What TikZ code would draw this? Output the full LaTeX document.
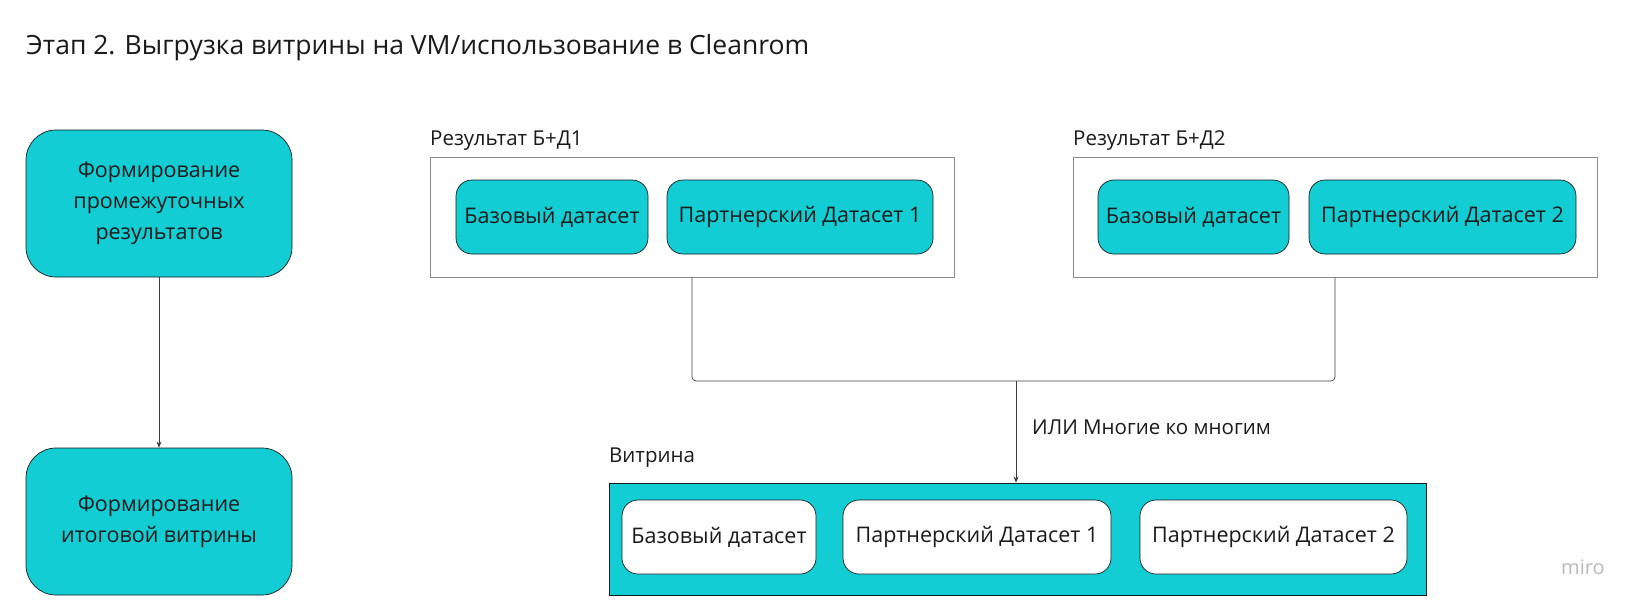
\documentclass[tikz,border=0pt]{standalone}
\usepackage{fontspec}
\setmainfont{Open Sans}
\usetikzlibrary{arrows.meta}
\definecolor{teal1}{HTML}{12CDD4}
\definecolor{ink}{HTML}{1A1A1A}
\definecolor{frameg}{HTML}{8C8C8C}
\begin{document}
\begin{tikzpicture}[x=1pt,y=1pt,
  every node/.style={font=\fontsize{21.5}{31}\selectfont, text=ink},
  bigbox/.style={draw=ink, line width=0.7pt, fill=teal1, rounded corners=30pt, minimum width=266pt, minimum height=147pt, align=center, inner sep=0pt},
  tealbox/.style={draw=ink, line width=0.7pt, fill=teal1, rounded corners=16pt, minimum height=74pt, inner sep=0pt},
  whitebox/.style={draw=ink, line width=0.7pt, fill=white, rounded corners=16pt, minimum height=74pt, inner sep=0pt},
  framebox/.style={draw=frameg, line width=0.8pt, minimum width=524pt, minimum height=120pt, inner sep=0pt},
  lbl/.style={anchor=base west, inner sep=0pt, font=\fontsize{20.5}{24}\selectfont},
  conn/.style={draw=ink!85, line width=0.7pt}
]
\useasboundingbox (0,0) rectangle (1626,-614);
\node[lbl, font=\fontsize{26.5}{30}\selectfont] (title) at (26,-54) {Этап 2. Выгрузка витрины на VM/использование в Cleanrom};

\node[bigbox] (s1) at (159,-203.5) {Формирование\\промежуточных\\результатов};
\node[bigbox] (s2) at (159,-521.5) {Формирование\\итоговой витрины};
\draw[conn, -{Stealth[length=6pt,width=5pt]}] (s1) -- (s2);

\node[framebox] (f1) at (692,-217) {};
\node[lbl] (f1l) at (430,-145) {Результат Б+Д1};
\node[tealbox, minimum width=192pt] (b1) at (552,-217) {Базовый датасет};
\node[tealbox, minimum width=266pt] (p1) at (800,-217) {Партнерский Датасет 1};

\node[framebox] (f2) at (1335,-217) {};
\node[lbl] (f2l) at (1073,-145) {Результат Б+Д2};
\node[tealbox, minimum width=191pt] (b2) at (1193.5,-217) {Базовый датасет};
\node[tealbox, minimum width=267pt] (p2) at (1442.5,-217) {Партнерский Датасет 2};

\node[draw=ink, line width=0.9pt, fill=teal1, minimum width=817pt, minimum height=112pt, inner sep=0pt] (vit) at (1017.5,-539) {};
\node[lbl] (vitl) at (609,-462) {Витрина};
\node[whitebox, minimum width=194pt] (vb) at (719,-537) {Базовый датасет};
\node[whitebox, minimum width=268pt] (vp1) at (977,-537) {Партнерский Датасет 1};
\node[whitebox, minimum width=267pt] (vp2) at (1273.5,-537) {Партнерский Датасет 2};

\coordinate (j) at (1016,-381);
\draw[conn, rounded corners=4pt] (f1.south) |- (j) -| (f2.south);
\draw[conn, -{Stealth[length=6pt,width=5pt]}] (j) -- (j |- vit.north);
\node[lbl] (or) at (1032,-434) {ИЛИ Многие ко многим};

\node[lbl, text=black!28, font=\fontsize{20}{24}\selectfont] (miro) at (1561,-574) {miro};
\end{tikzpicture}
\end{document}
